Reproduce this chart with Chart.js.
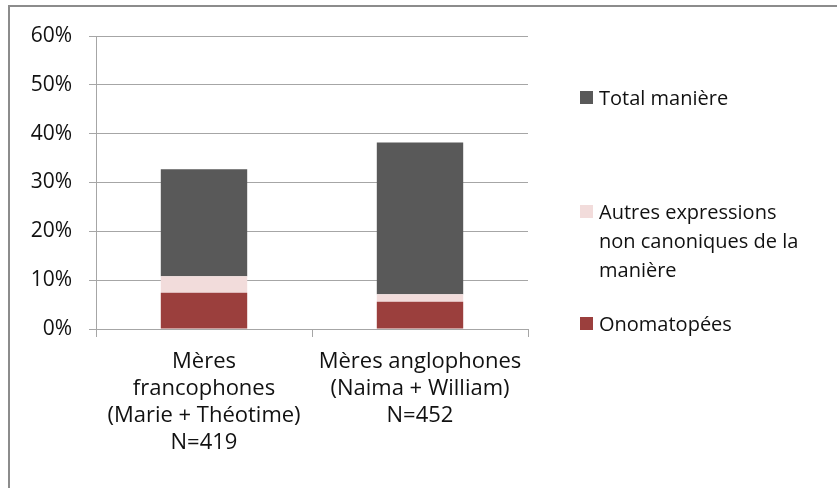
<!DOCTYPE html>
<html>
  <head>
    <title>Manière - stacked bars</title>
    <script src="https://cdn.jsdelivr.net/npm/chart.js@4.4.1/dist/chart.umd.min.js"></script>
    <style>
      body { margin: 0; background: #fff; }
      #frame { position: absolute; left: 8px; top: 5px; width: 840px; height: 490px;
               border-left: 2px solid #8c8c8c; border-top: 2px solid #8c8c8c; }
      #wrap { position: absolute; left: 0; top: 0; width: 837px; height: 488px; }
    </style>
  </head>
  <body>
    <div id="frame"></div>
    <div id="wrap"><canvas id="myChart" width="837" height="488"></canvas></div>
    <script>
      // data (percent)
      var categories = [
        ["Mères", "francophones", "(Marie + Théotime)", "N=419"],
        ["Mères anglophones", "(Naima + William)", "N=452"]
      ];
      var onomatopees = [7.4, 5.6];
      var autres = [3.4, 1.5];
      var totalManiere = [21.9, 31.1];
      var yTicks = [0, 10, 20, 30, 40, 50, 60];

      var FONT = "'Open Sans', sans-serif";
      var TEXT = "#111";

      // legend drawn by hand so the long label can wrap like the original
      var sideLegend = {
        id: "sideLegend",
        afterDraw: function (chart) {
          var c = chart.ctx;
          var items = [
            { ds: 2, y: 98, lines: ["Total manière"] },
            { ds: 1, y: 212, lines: ["Autres expressions", "non canoniques de la", "manière"] },
            { ds: 0, y: 324, lines: ["Onomatopées"] }
          ];
          c.save();
          c.font = "20px " + FONT;
          c.textBaseline = "middle";
          items.forEach(function (it) {
            var d = chart.data.datasets[it.ds];
            c.fillStyle = d.backgroundColor;
            c.fillRect(580, it.y - 7, 13, 13);
            c.fillStyle = TEXT;
            it.lines.forEach(function (t, i) {
              c.fillText(t, 599, it.y + 1 + i * 29);
            });
          });
          c.restore();
        }
      };

      var ctx = document.getElementById("myChart").getContext("2d");
      var chart = new Chart(ctx, {
        type: "bar",
        data: {
          labels: categories,
          datasets: [
            { label: "Onomatopées", data: onomatopees, backgroundColor: "#9b3f3d" },
            { label: "Autres expressions non canoniques de la manière", data: autres, backgroundColor: "#f2dcdb" },
            { label: "Total manière", data: totalManiere, backgroundColor: "#595959" }
          ]
        },
        plugins: [sideLegend],
        options: {
          responsive: false,
          animation: false,
          layout: { padding: { top: 36, right: 309, bottom: 0, left: 0 } },
          datasets: { bar: { barPercentage: 0.4, categoryPercentage: 1.0 } },
          plugins: {
            legend: { display: false },
            tooltip: { enabled: false }
          },
          scales: {
            x: {
              stacked: true,
              afterFit: function (s) { s.height = 159; },
              grid: { offset: true, drawOnChartArea: false, tickLength: 8, color: "#a6a6a6" },
              border: { color: "#a6a6a6" },
              ticks: {
                color: TEXT,
                padding: 11,
                maxRotation: 0,
                autoSkip: false,
                font: { family: FONT, size: 22, lineHeight: 1.227 }
              }
            },
            y: {
              stacked: true,
              min: 0,
              max: 60,
              afterFit: function (s) { s.width = 96; },
              afterBuildTicks: function (s) {
                s.ticks = yTicks.map(function (v) { return { value: v }; });
              },
              grid: { color: "#a6a6a6", tickLength: 7 },
              border: { color: "#a6a6a6" },
              ticks: {
                color: TEXT,
                padding: 17,
                font: { family: FONT, size: 21 },
                callback: function (v) { return v + "%"; }
              }
            }
          }
        }
      });
    </script>
  </body>
</html>
